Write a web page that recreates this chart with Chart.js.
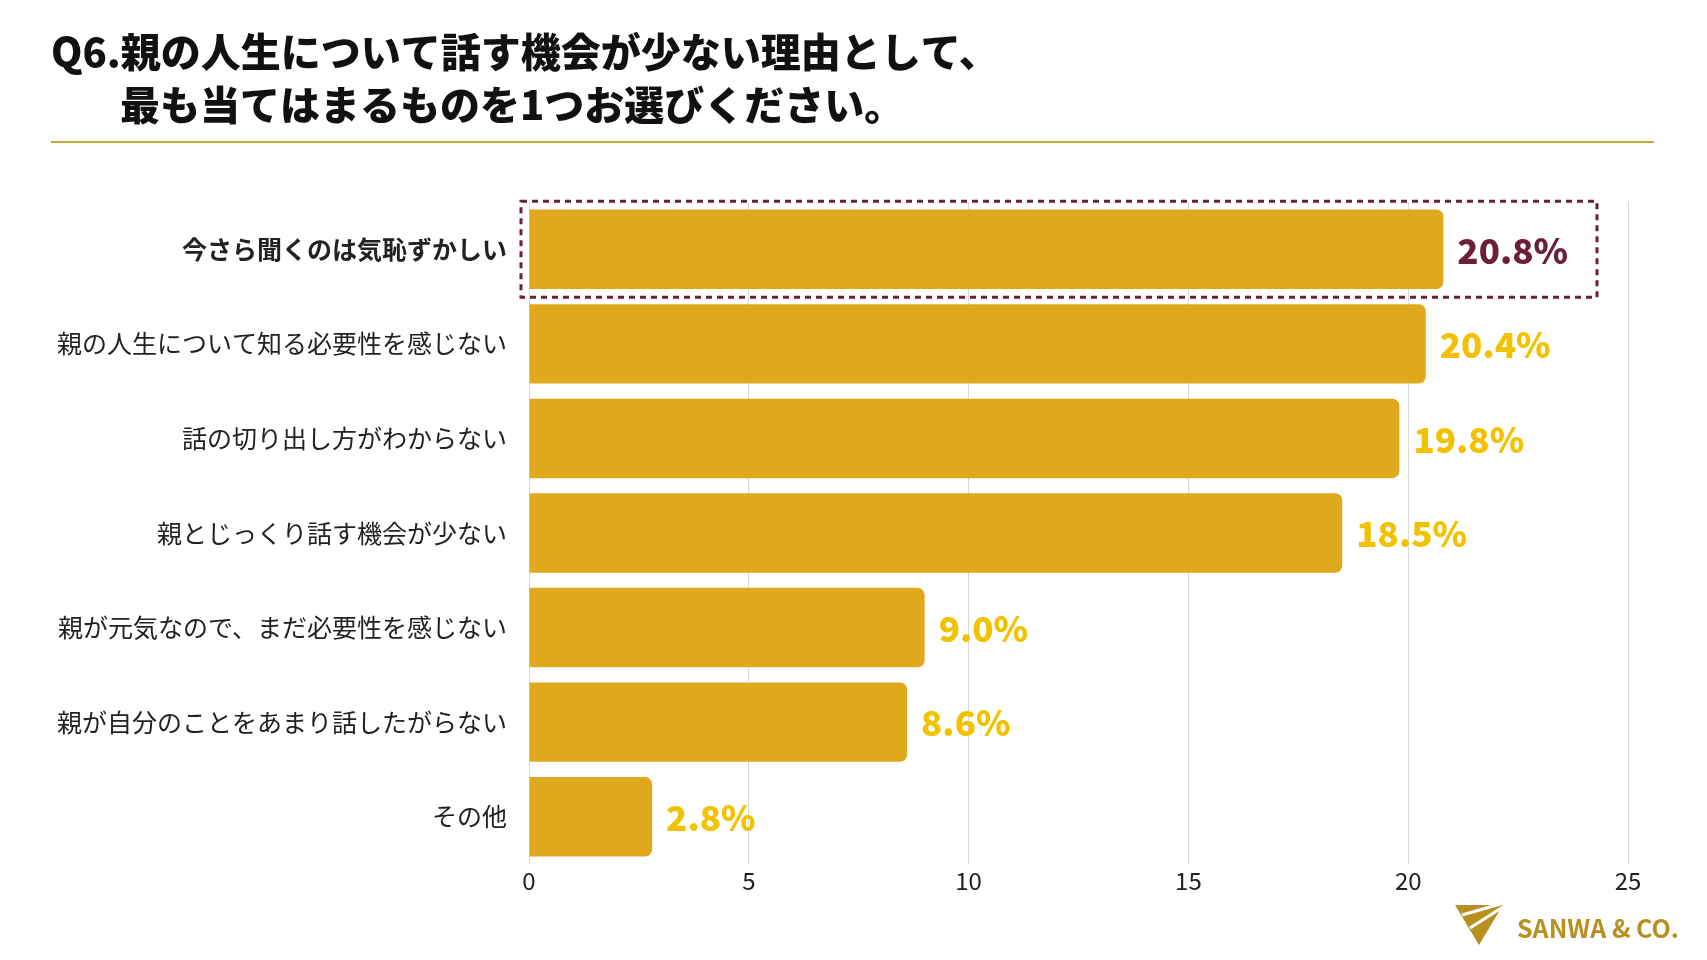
<!DOCTYPE html>
<html><head><meta charset="utf-8">
<script src="https://cdn.jsdelivr.net/npm/chart.js@4/dist/chart.umd.min.js"></script>
<style>html,body{margin:0;padding:0;background:#fff}#w{width:1707px;height:960px;position:relative}</style>
</head><body><div id="w"><canvas id="c"></canvas></div>
<script>
const categories=["今さら聞くのは気恥ずかしい","親の人生について知る必要性を感じない","話の切り出し方がわからない","親とじっくり話す機会が少ない","親が元気なので、まだ必要性を感じない","親が自分のことをあまり話したがらない","その他"];
const values=[20.8,20.4,19.8,18.5,9.0,8.6,2.8];
const titleLines=["Q6.親の人生について話す機会が少ない理由として、","最も当てはまるものを1つお選びください。"];
const F='"Noto Sans CJK JP","Noto Sans",sans-serif';
const deco={id:'deco',afterDatasetsDraw(ch){
 const c=ch.ctx;c.save();
 c.fillStyle='#111';c.font='900 40px '+F;c.textBaseline='middle';
 c.fillText(titleLines[0],51,52);c.fillText(titleLines[1],120,105);
 c.fillStyle='#C9A83A';c.fillRect(51,141,1603,2);
 const m=ch.getDatasetMeta(0);
 m.data.forEach((b,i)=>{c.font='900 35px '+F;c.fillStyle=i===0?'#6B1F3A':'#F2C200';c.textAlign='left';c.fillText(values[i].toFixed(1)+'%',b.x+14,b.y+1);});
 const b0=m.data[0];
 c.strokeStyle='#6B1F3A';c.lineWidth=3;c.setLineDash([6,5]);c.strokeRect(521,b0.y-48,1076,96);c.setLineDash([]);
 c.fillStyle='#B8901F';
 c.beginPath();c.moveTo(1455,905);c.lineTo(1503,905);c.lineTo(1479,945);c.closePath();c.fill();
 c.strokeStyle='#fff';c.lineWidth=3;
 c.beginPath();c.moveTo(1462,915);c.lineTo(1504,903);c.moveTo(1470,928);c.lineTo(1506,905);c.stroke();
 c.fillStyle='#B8901F';c.font='bold 25px '+F;c.fillText('SANWA & CO.',1517,928);
 c.restore();}};
new Chart(document.getElementById('c'),{type:'bar',
 data:{labels:categories,datasets:[{data:values,backgroundColor:'#E0A81C',borderRadius:{topRight:7,bottomRight:7},borderSkipped:'start',categoryPercentage:1,barPercentage:0.84}]},
 options:{indexAxis:'y',responsive:true,maintainAspectRatio:false,animation:false,
 layout:{padding:{top:202,right:79,left:0,bottom:0}},
 plugins:{legend:{display:false},tooltip:{enabled:false}},
 scales:{
  x:{min:0,max:25,ticks:{stepSize:5,color:'#222',font:{family:F,size:24},padding:2},grid:{color:'#d8d8d8',drawTicks:false},border:{display:false},afterFit(s){s.height=96;}},
  y:{ticks:{color:'#222',font:(ctx)=>({family:F,size:25,weight:ctx.index===0?'bold':'normal'}),padding:14},grid:{display:false},border:{display:false},afterFit(s){s.width=529;}}
 }},plugins:[deco]});
</script></body></html>
